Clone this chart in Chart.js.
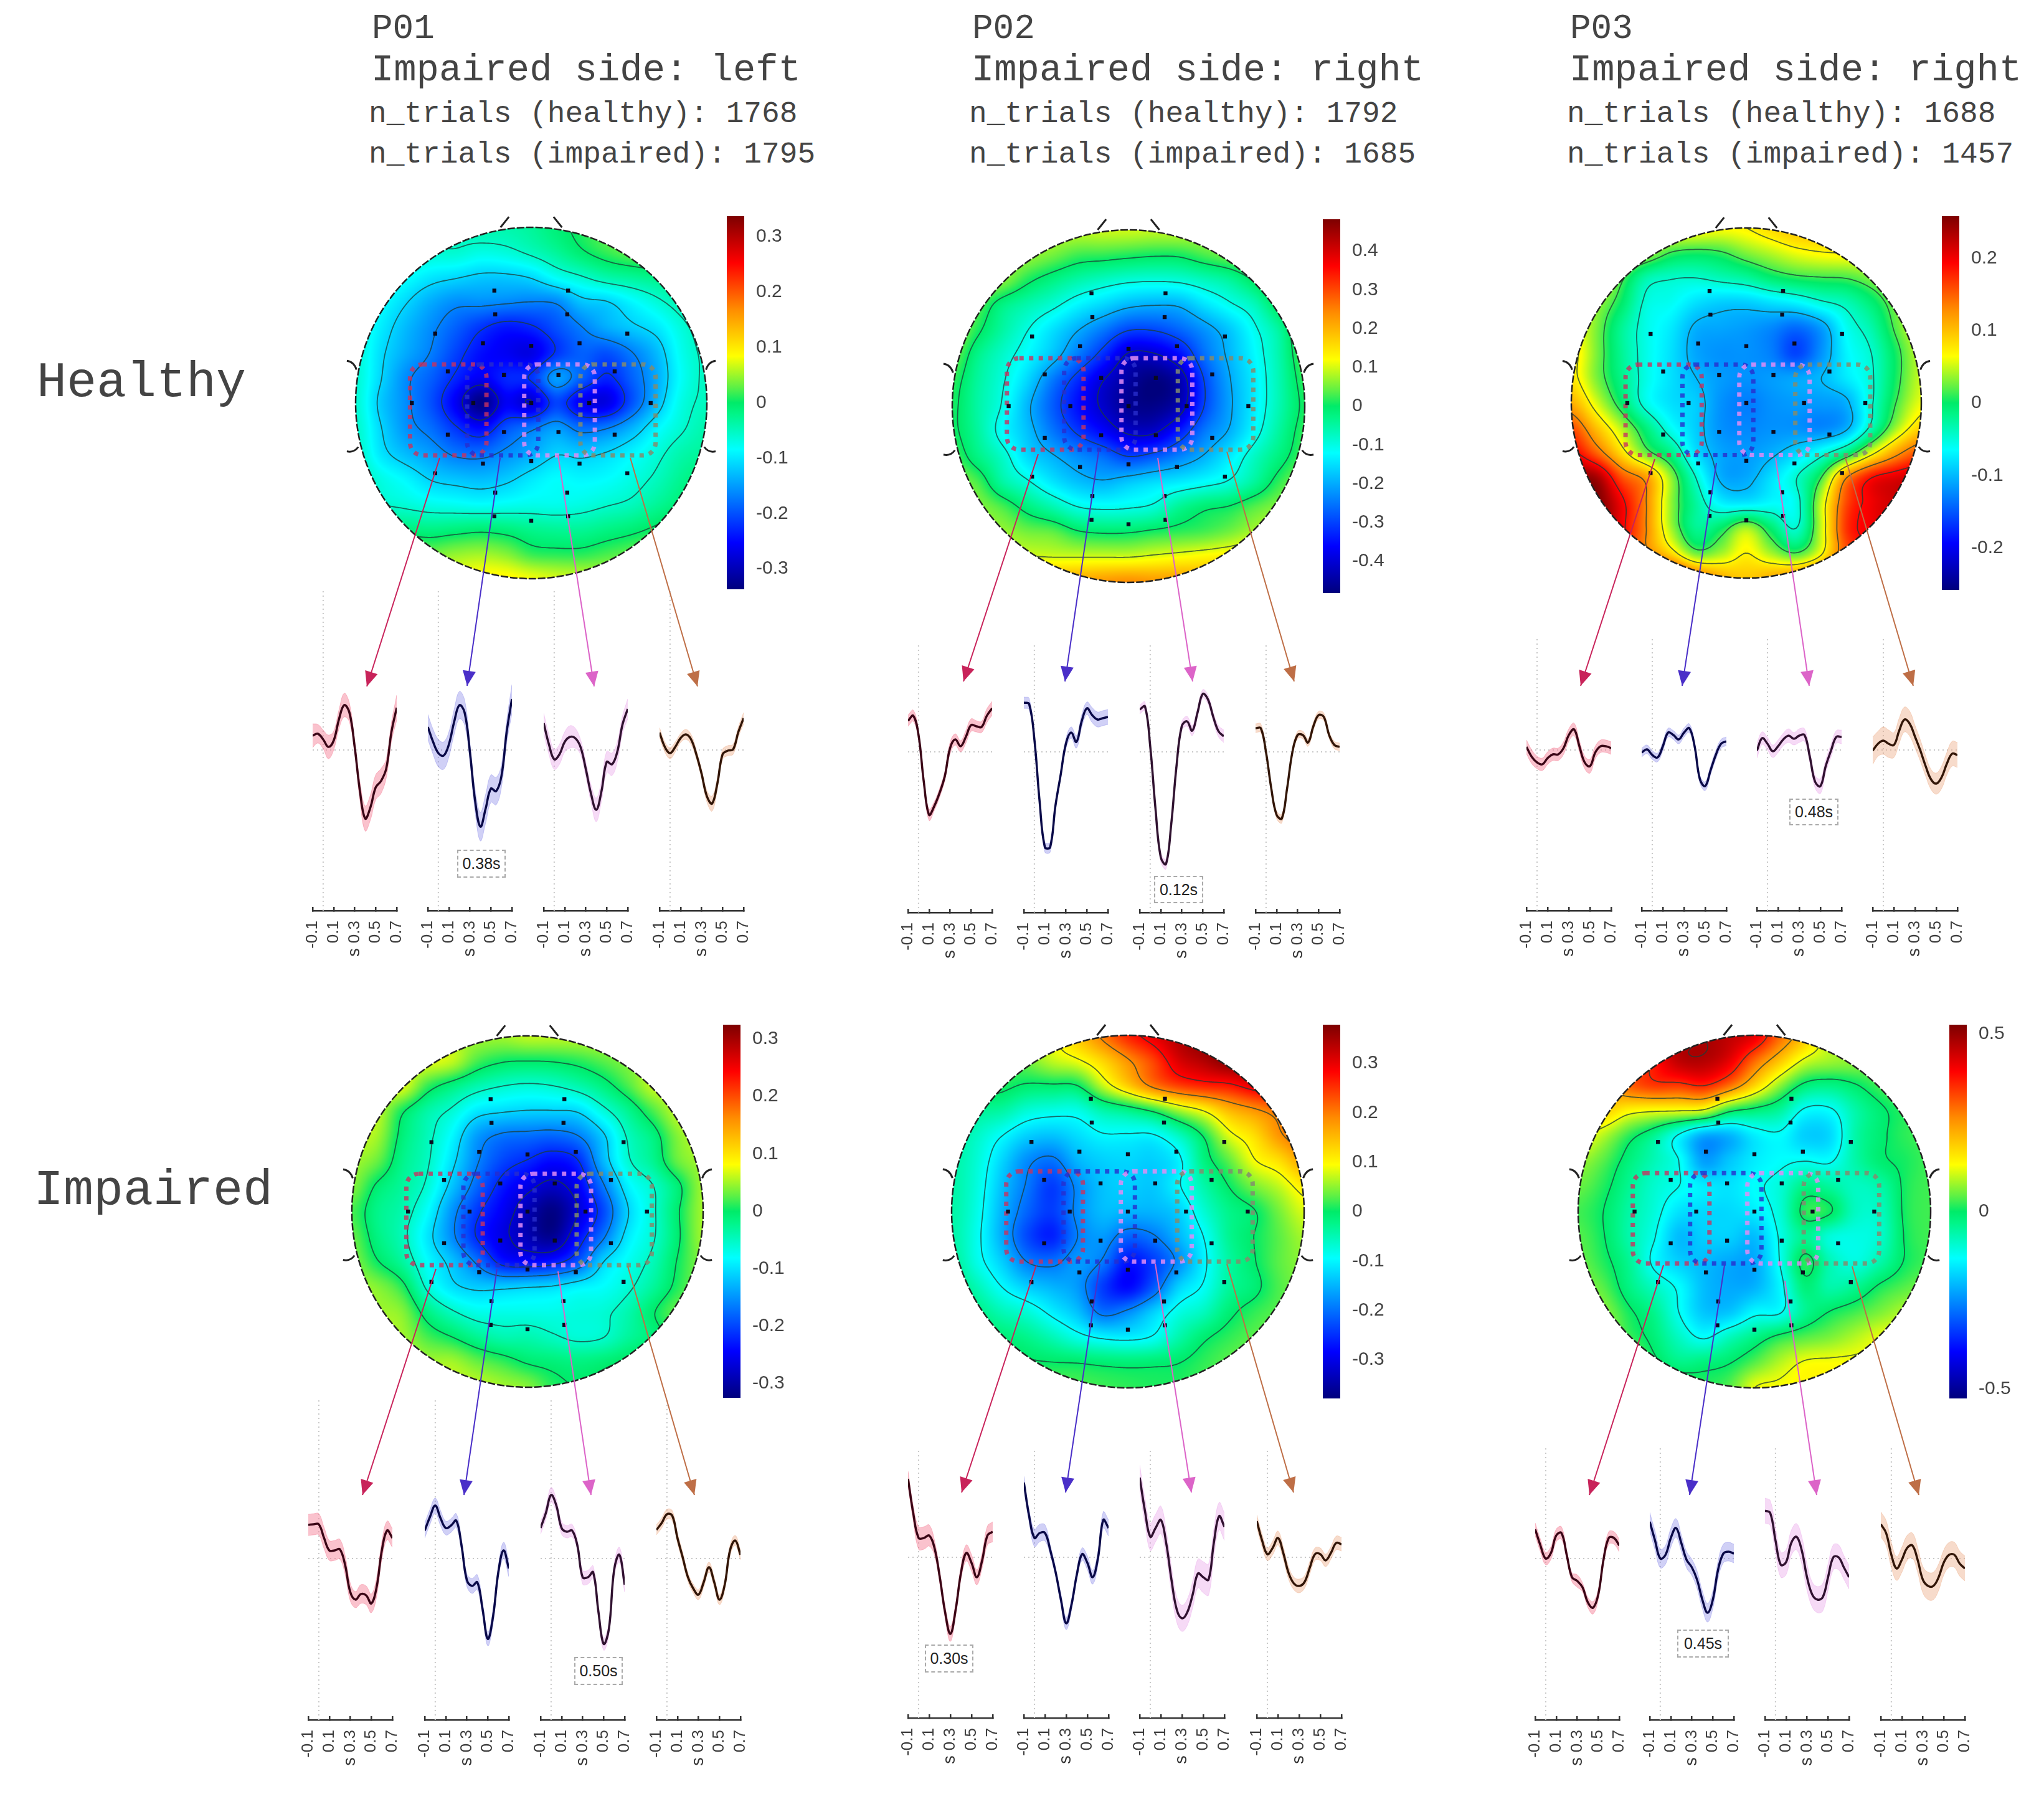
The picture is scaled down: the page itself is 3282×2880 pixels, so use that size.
<!DOCTYPE html>
<html>
<head>
<meta charset="utf-8">
<title>ERP topographies P01-P03</title>
<style>
  html, body { margin: 0; background: #fff; }
  #page { position: relative; width: 3282px; height: 2880px; overflow: hidden; background: #fff; }
  canvas { position: absolute; }
  .label { position: absolute; white-space: pre; font-family: "Liberation Mono", monospace; color: #444; line-height: 1; transform: translateY(-50%); }
  .peak { position: absolute; box-sizing: border-box; border: 2px dashed #aaa; font: 25px "Liberation Sans", Arial, sans-serif; color: #222;
          display: flex; align-items: center; justify-content: center; background: #fff; }
</style>
<script src="https://cdn.jsdelivr.net/npm/chart.js@4"></script>
</head>
<body>
<div id="page"></div>
<script>
// Text
const patients = ['P01', 'P02', 'P03']
const impairedSides = ['left', 'right', 'right']
const trialsHealthy = [1768, 1792, 1688]
const trialsImpaired = [1795, 1685, 1457]
const rowNames = ['Healthy', 'Impaired']
const peakLabels = ['0.38s', '0.12s', '0.48s', '0.50s', '0.30s', '0.45s']

// Colorbars
const cbarLimits = [0.337, 0.482, 0.258, 0.325, 0.378, 0.526]
const cbarTicks = [
  [0.3, 0.2, 0.1, 0, -0.1, -0.2, -0.3],
  [0.4, 0.3, 0.2, 0.1, 0, -0.1, -0.2, -0.3, -0.4],
  [0.2, 0.1, 0, -0.1, -0.2],
  [0.3, 0.2, 0.1, 0, -0.1, -0.2, -0.3],
  [0.3, 0.2, 0.1, 0, -0.1, -0.2, -0.3],
  [0.5, 0, -0.5],
]

// Topography cells, hundredths of the colorbar unit, 15 x 15 over the head, top row first
const mapHealthyP01 = [
  [-5,-5,-5,-5,-5,-4,-4,-3,-1,1,3,4,5,5,5],
  [-5,-5,-5,-6,-6,-7,-6.5,-5,-3,-.5,1.5,3,4,4,4],
  [-5,-6,-8,-10,-11,-12,-12,-11,-8,-6,-4,-3,-2,-1,0],
  [-5,-8,-11,-14,-16,-16,-16.5,-17,-16.5,-12.5,-11.5,-9,-6.5,-4,-2],
  [-6,-9.5,-13,-16,-19,-22,-24,-23,-20,-17,-14,-12,-10,-6.5,-4],
  [-6,-10.5,-14,-17,-21,-24.5,-26,-27,-22,-19,-20,-17,-13,-7.5,-5],
  [-6,-11,-16,-19,-23,-26,-23,-22,-15,-19,-23,-19,-14,-8,-5],
  [-6,-12,-16,-20,-26,-33,-26,-28,-21,-26,-27,-20,-13,-7,-5],
  [-5.5,-11,-15.5,-18,-22,-25,-20,-17.5,-15,-18,-17,-13.5,-9,-6,-4],
  [-5,-10,-13,-15,-17.5,-18,-16,-14,-11.5,-12,-11,-9,-6.5,-4,-3],
  [-4,-7,-9,-11.5,-12.5,-13,-12,-10,-8.5,-9,-8.5,-7,-5,-2.5,-1],
  [-3,-5.5,-6.5,-7.5,-8,-8.5,-8,-7.5,-7.5,-7,-6,-5,-3,-1,0],
  [-1,-1,-1.5,-2,-1.5,-1,-1.5,-2.5,-3,-3,-2,-1,.5,2,2],
  [4,4,4,3.5,4.5,5,4,1.5,1,1,2,3,4,4,4],
  [8,8,8,8,8,9,9,8,7,6.5,6,6,6,6,6],
]
const mapHealthyP02 = [
  [9,9,9,9,9,9,9.5,9.5,9,9,8,8,8,8,8],
  [9,9,8,7,5,2.5,2,1.2,.5,.7,3,5,7,8,8],
  [9,8,6,1,-2.5,-5.5,-7.5,-9,-9.5,-9,-7,-4.5,.5,6,8],
  [9,4,-2.5,-6,-9,-13,-16,-19,-20,-19.5,-15,-11,-7,1,6],
  [8,1,-5,-10,-15,-20,-25,-30,-30,-27,-22.5,-17.5,-11,-4.5,6],
  [5,-3,-8,-12.5,-18,-25,-32.5,-41,-41,-36,-26,-19,-12.5,-5.5,4],
  [2,-4.5,-9.5,-16,-25,-32.5,-40,-45,-48,-44,-30,-20.5,-13.5,-6,2],
  [1,-5,-10.5,-19,-27.5,-35,-41,-46,-47,-43,-30,-21,-13.5,-6,1],
  [1,-4.5,-12,-18,-25,-31,-36,-41,-41,-34,-25,-19.5,-12,-4.5,2],
  [3,-2.5,-8,-15.5,-19.5,-23,-26,-30,-28,-24,-19.5,-14,-7.5,-2,3],
  [6,3,-5,-9.5,-14.5,-18,-19.5,-17.5,-15.5,-14,-12,-9.5,-4.5,2,6],
  [7,6,3,-2,-6,-10,-11,-10.5,-9,-4,-1,.3,3.5,6,7],
  [9,8,7,5,4,.5,-.5,-.3,1,2,3,5,8,10,10],
  [11,11,11,10.5,10,10,10,10,11,12,13,14,15,15,15],
  [22,22,22,22,22,22,23,24,23,23,22,22,22,22,22],
]
const mapHealthyP03 = [
  [7,7,7,7,7,7,6.5,7,8.5,10,10,9,8,8,8],
  [7,7,6,4,1.2,.5,1.1,3,4.5,6,6.8,7,7,7,7],
  [7,7,2,-3,-4.2,-4.4,-3.5,-2.5,-.5,.7,1.2,1.5,3,5,6],
  [7,4,0,-5,-6,-8,-9,-9,-8,-7,-5,-3.5,-.7,3,6],
  [7,3,-2,-5.5,-7.5,-10.5,-11,-11.5,-12.5,-14,-11.5,-6,-3,2,6],
  [8,3,-2,-5.5,-8,-11,-12,-12,-13,-16,-12,-7,-4.4,.5,5],
  [8,3,-1.5,-5.5,-8,-10,-11.5,-12,-11.5,-11,-10,-7.5,-4.8,.5,5],
  [11,5.5,0,-5.5,-8,-9,-12,-13,-12,-11.5,-11.5,-10.5,-4.8,1.5,6],
  [16,10,4.5,-1,-6,-9,-12,-12.5,-12,-12,-12.5,-10.5,-3.5,4,9],
  [20,15,8.5,2.5,-1.5,-8,-11,-11.5,-10.5,-8.5,-5.5,-1,6,12,16],
  [25,24,16,12,3.5,-4.5,-10.5,-10.8,-8,-4.5,1.5,13,19,21,22],
  [26,26,20,13,3.5,-2.5,-7,-7.5,-6.5,-5.5,5,16,20,22,23],
  [26,26,20,13,4,-2,0,4,-.5,-4.4,5,17,20,22,23],
  [26,26,20,14,8.5,2.5,4,7,4,1.5,6.5,16,20,22,23],
  [26,26,26,25,21,15,11,9.5,11,13,16,21,23,23,23],
]
const mapImpairedP01 = [
  [5,5,5,5,5,5,5,6,6,6,6,5,5,5,5],
  [6,6,6,7,6,2,.3,0,.2,1,2.5,4,5,5,5],
  [6,6,7,1.5,-1.5,-4,-5.4,-6,-5.5,-4,-1.5,2,6,6,6],
  [6,6,.5,-3.5,-6,-9.5,-10.5,-11,-11,-10.5,-6.5,-2.5,2,6,6],
  [6,5,-1,-4.5,-8.5,-14.5,-17,-17.5,-18,-16.5,-11.5,-5,-1.5,4,6],
  [5,3,-2,-5,-10,-16,-20,-22,-24,-22,-13,-6,-2.5,3,5],
  [4,-.5,-3,-6,-12,-18,-23,-26,-28,-25,-17,-9,-5.5,-.8,5],
  [2,-2,-4,-8,-15,-21,-25,-29,-32,-27,-20,-11,-6,-.3,5],
  [3,-1.5,-4.5,-9.5,-15.5,-22,-26,-29,-31,-24,-17,-9.5,-5.8,-.5,5],
  [4,.3,-3,-8,-12,-17,-23,-24,-23,-19,-11,-7.5,-4.5,.3,4],
  [5,4,1,-6,-10,-11.5,-11.5,-11,-10.5,-9,-8,-6,-3,1,4],
  [6,5,4,-1.5,-5,-7,-7,-7,-7,-6.5,-6,-4,-.3,3,4],
  [6,6,5,2,0,-2.5,-4,-4,-5,-6,-5.5,-3,-1,1.5,3],
  [6,6,6,5,5,3,1.5,-.3,-1,-1.5,-.8,.5,2,3,4],
  [6,6,6,6,6,6,5,4,1,0,1,3,4,5,5],
]
const mapImpairedP02 = [
  [3,3,5,7,9,14,20,26,30,34,37,37,37,37,37],
  [1,1,2,4,7,9,13,18.5,24,31,34,37,37,37,37],
  [2,2,1,-.5,-.5,0,7,13.5,20,24,26,27,30,32,32],
  [-1,-3,-4,-7,-8,-8,-4.5,-2.5,.5,5.5,9.5,15,18,21,24],
  [-3,-6,-9.5,-13,-14,-12,-10,-10,-10,-6,.2,8,12,18,22],
  [-4,-7,-12.5,-18,-20,-15,-13,-12.5,-13,-10.5,-2,3,9,12,17],
  [-4,-7.5,-14,-19.5,-24,-18,-14,-13,-13.5,-10,-4.5,0,4,7,11],
  [-4,-8,-15,-21,-24,-18,-14.5,-15,-15,-13,-7,-2.5,-.3,4,8],
  [-4,-8.5,-15.5,-23,-26,-19,-17,-21,-19.5,-15,-9.5,-3,0,3,6],
  [-3,-8,-13,-19,-20,-17,-19.5,-27,-24,-18,-10.5,-4,-.3,3,5],
  [-1,-5,-9.5,-13,-15,-17,-24,-28,-22,-13,-9,-3.5,-1,2.5,4.5],
  [0,-2,-5,-7,-10.5,-14,-20,-18,-13,-8,-5.5,-1,1.5,3,4],
  [1,0,-1,-2.5,-5,-8,-10,-10.5,-9,-4.5,-.7,1.5,3,4,5],
  [2,2,1.5,.5,.1,-.1,-.7,-1,-.7,-.1,1.5,3,4,5,5],
  [3,3,3,3,3,2.5,2,1.5,1,1,2,3,4,5,5],
]
const mapImpairedP03 = [
  [30,35,40,44,46,48,46,42,30,20,9,6,5,5,5],
  [15,20,30,38,46,47,42,30,20,11,8,7,6,6,6],
  [15,22,30,34,34,36,29,18,7,-1.5,-3,-.5,3,5,5],
  [14,18,14,12.5,12,10.5,1,-2,-5,-13,-13,-6,-1,2,3],
  [14,9,2,-4,-13,-22,-21,-15,-13,-18,-17,-6,-1,2,3],
  [8,4,-2,-7,-12,-23,-19,-15,-13,-12,-12.5,-6,-1,1,3],
  [5,1.5,-4,-9,-12,-15,-16,-13,-10,-3,-5,-8,-6,1,3],
  [3,0,-5.5,-10,-16,-17,-17,-15,-10,1.5,.5,-8,-8,1,3],
  [4,.3,-6,-11.5,-20,-18,-18,-20,-11.5,-4,-10,-11,-9,.5,3],
  [5,1.5,-4,-13,-18,-20,-22,-22,-12,1.5,-7,-10.5,-6,.5,3],
  [7,4,-2.5,-8,-13,-20,-22,-21,-14,-2,-6,-4,1,4,6],
  [9,7,1,-3.5,-12,-19,-19,-13.5,-12.5,-4,.3,3,6,9,10],
  [10,9,3,-1.5,-8,-12.5,-7.5,-3,1.5,4,6,9,12,13,13],
  [12,11,8,1.5,-3,-2,-.3,4,9,12.5,13,13,13,13,13],
  [14,14,12,8,5,2,4,12,13,14,14,14,14,14,14],
]
const contourLevels = [
  [-28, -22.4, -16.8, -11.2, -5.6, 0],
  [-40, -30, -20, -10, 0, 10],
  [-10, -4.4, 1.4, 7, 13, 19],
  [-27, -21.7, -16.3, -10.8, -5.4, 0],
  [-19, -9.5, 0, 9.5, 19, 28],
  [-12, 0, 12, 24, 36, 48],
]

// Electrodes, head coordinates
const electrodeU = [-.21,.21,-.205,.205,-.547,.547,-.275,.275,0,-.475,.475,-.155,.155,-.68,.68,-.33,.33,0,-.475,.475,-.155,.155,-.275,.275,0,-.547,.547,-.205,.205,-.21,.21,0]
const electrodeV = [.64,.64,.505,.505,.395,.395,.34,.34,.325,.18,.18,.16,.16,0,0,0,0,0,-.18,-.18,-.165,-.165,-.345,-.345,-.33,-.4,-.4,-.51,-.51,-.645,-.645,-.67]

// ERP traces: red, blue, pink, brown regions. Arbitrary units, one unit is 10 px on the page
const erpTimes = [-0.1,-0.05,0,0.05,0.1,0.15,0.2,0.25,0.3,0.35,0.4,0.45,0.5,0.55,0.6,0.65,0.7]
const erpTicks = [-0.1, 0.1, 0.3, 0.5, 0.7]
const erpHealthyP01 = [
  [2.3,2.6,1.7,.5,1.5,4.9,7.2,6,.5,-6.6,-11,-9.2,-6,-5,-3,2.9,6.8],
  [3.7,1.3,-.5,-.9,.9,4.5,7.2,6,-.3,-8.2,-12.3,-9.4,-6.2,-6.6,-4.2,2.9,8.2],
  [4.3,.9,-1.5,-.7,1.3,2.1,1.9,.5,-3,-7,-9.6,-6.6,-1.9,-2.3,-.3,4.1,6.6],
  [2.8,.5,-.5,.5,1.9,2.5,1.7,-.7,-3.8,-7.4,-8.6,-5.4,-.7,-.1,.1,2.9,5.1],
]
const semHealthyP01 = [
  [1.9,1.5,1.5,1.9,1.5,1.5,1.9,1.5,1,1.5,2,2,2,2,1.5,1.5,2],
  [2,2,2.2,2.2,2,2,2.2,2,1.5,1.8,2.3,2.3,2.2,2.2,1.8,1.8,2.3],
  [1.6,1.6,1.6,1.6,1.6,1.8,1.6,1.2,1.2,1.4,1.9,1.6,1.7,1.8,1.6,1.4,1.6],
  [.8,.8,.9,.8,.7,.8,.8,.7,.7,.9,1.2,.9,.8,.8,.8,.8,.9],
]
const erpHealthyP02 = [
  [5,5.8,2.7,-4.8,-10.1,-8.7,-6.6,-3.9,.6,2,.9,2.4,4.3,4.1,4,5.8,7],
  [7.9,7.7,2,-8,-15.3,-15.3,-8.7,-3.7,1.3,3.1,1.6,4.9,7,5.9,5.2,5.4,5.6],
  [6.8,7.3,.9,-9.1,-16.9,-18,-11.6,-2.3,4.1,4.9,3.4,6.3,9.3,8.4,5.6,3.3,2.5],
  [3.8,3.8,-.1,-5.9,-10.1,-10.7,-5.9,-.1,2.7,2.7,1.5,4.1,5.9,5.6,2.7,1.1,.8],
]
const semHealthyP02 = [
  [.9,.9,.7,.6,.9,.7,.7,.7,.9,.9,.9,1,1,.9,.9,1.1,1.1],
  [.9,.9,.5,.5,.8,.8,.5,.5,.8,.9,1,1,1,1.2,1.2,1.2,1.2],
  [.7,.7,.4,.4,.7,.8,.5,.5,.7,.8,.8,.7,.7,.7,.7,.9,1],
  [.7,.7,.4,.4,.6,.7,.4,.4,.6,.6,.6,.6,.6,.6,.5,.6,.6],
]
const erpHealthyP03 = [
  [.5,-1.1,-2,-2.3,-1.3,-.7,-.7,.3,2.4,3.3,.6,-2,-2.6,-.4,.6,.6,.3],
  [-.4,.1,-.8,-1.2,.6,2.8,2.4,1.7,2.8,3.5,.6,-4.7,-5.8,-3.3,-.8,1,1.4],
  [-.1,1.9,1,-.2,.6,1.7,2.3,1.8,2.3,2.4,-1.1,-5.1,-5.8,-2.6,-.1,2.1,2.1],
  [-.1,1,1.5,1,.8,3.1,4.9,4.2,2.1,-.1,-2.6,-4.7,-5.4,-4.4,-2.2,-.6,-.8],
]
const semHealthyP03 = [
  [1.1,1.1,1,1,1,1,1,1,1,1,.9,1,1.1,1,1,1,1],
  [.7,.7,.7,.7,.7,.7,.7,.7,.7,.7,.6,.6,.7,.7,.7,.7,.7],
  [1.2,1,1,1,1,1,1.1,1,1.1,1,.9,1,1.2,1,1,1,1.1],
  [2.2,2,2.2,2.2,2,2,2,2,1.8,1.7,1.6,1.6,1.7,1.8,1.8,2,2],
]
const erpImpairedP01 = [
  [5.4,5.5,5.5,3.3,1.3,1.3,1.5,-1,-5.4,-6.6,-5.7,-5.9,-7.2,-4.6,1.3,4.5,3.3],
  [4.5,6.7,8.5,6.5,4.9,5.3,6.1,2.1,-3.4,-4.4,-3.8,-8.1,-12.9,-9.3,-2.2,1.3,-1.6],
  [4.9,7.3,10.2,8.5,4.9,4.3,4.5,2.1,-3,-3,-2.2,-8.5,-13.7,-11.3,-1.8,.6,-4.2],
  [4.6,5.7,7.1,6.9,3.3,.2,-3,-4.8,-5.8,-3.8,-1.4,-3.8,-6.6,-4.2,1.3,2.9,.6],
]
const semImpairedP01 = [
  [1.7,1.7,1.7,1.7,1.6,1.6,1.6,1.5,1.4,1.3,1.5,1.5,1.5,1.5,1.4,1.5,1.5],
  [1.2,1.2,1.2,1.2,1.1,1.1,1.1,1,1,1.2,1.2,1,1.1,1.2,1,1.3,1.3],
  [1,1,1.2,1,1,1,1,.8,1.1,1.1,1,.9,1,1,1,1.2,1.2],
  [.8,.8,.8,.8,.8,.8,.7,.7,.8,.8,.8,.8,.8,.8,.8,.8,.8],
]
const erpImpairedP02 = [
  [12.6,7,3.1,3.1,3.5,1.5,-3.2,-8.8,-12.3,-8.4,-2.5,.7,-.9,-3.2,-.5,3.5,4.1],
  [12,6.6,3.1,3.9,3.9,1.1,-2.4,-6.8,-10.6,-7.6,-2.8,.5,-.9,-3.2,-.1,6,4.7],
  [12.8,7.4,3.3,4.7,6,2.3,-3.6,-8.4,-9.8,-8.8,-6,-2.6,-3.2,-3.6,2.3,6.6,4.9],
  [5.8,2.7,.5,1.5,3.1,.7,-2.5,-4.2,-4.6,-4,-1.7,.5,.5,-.5,.7,2.3,2.1],
]
const semImpairedP02 = [
  [1.2,1.2,1.8,1.8,1.7,1.2,1,1,1.2,1,1,1.3,1.3,1.2,1.2,1.5,1.6],
  [1,1,1.4,1.4,1.3,.8,.7,.9,1,.9,.8,1,1.1,1.1,1.1,1.3,1.3],
  [2,2,2.2,2.2,2.2,2,2,2,2.1,2.1,2.1,2.3,2.5,2.5,2.2,2.2,2.2],
  [1,1,1,1.1,1.1,1,1,1,1.1,1,1,1,1,1,1,1.1,1.1],
]
const erpImpairedP03 = [
  [4.7,2.1,0,.9,3.7,4.1,.6,-3,-3.6,-4.6,-7,-7.9,-5.8,-.2,3.3,3.3,2.1],
  [5.9,2.9,0,.6,3.3,4.9,2.5,-.2,-1.4,-3.4,-6.6,-8.7,-6.6,-1.8,.8,1.1,.8],
  [7.7,7.3,2.9,-1,-.6,2.5,3.5,1.3,-3,-5.8,-6.6,-6.2,-3,.2,.2,-1.4,-3],
  [5.5,4.1,.6,-1.6,-.2,1.7,2.1,-.2,-3.4,-4.4,-4.4,-3,-.6,.6,.6,-.8,-1.6],
]
const semImpairedP03 = [
  [1,1,1,1,1,1,.7,.7,1,.7,.8,1,.8,.8,1,1,1],
  [1.5,1.5,1.5,1.5,1.5,1.5,1.3,1.3,1.3,1.4,1.4,1.5,1.4,1.4,1.5,1.5,1.5],
  [2,2,2,2,2,2,2.1,2.2,2.1,2,2.1,2.2,2.1,2,2,1.9,1.9],
  [2,2,2,1.9,2,2,2,2,2.1,2.2,2.2,2.1,2,2,2,2,2],
]

// -------------------------
// Page layout and styles

const regionColors = ['#c8235a', '#4a2fc8', '#dc64c8', '#be6e46']
const rectColors = ['rgba(200,50,95,.8)', 'rgba(40,45,205,.8)', 'rgba(225,140,245,.85)', 'rgba(130,140,110,.85)']
const bandColors = ['rgba(245,120,145,.45)', 'rgba(120,120,230,.35)', 'rgba(230,150,230,.35)', 'rgba(235,165,125,.4)']
const lineColors = ['#3a0616', '#0a0a48', '#301230', '#321608']
const regionU = [[-.69, -.255], [-.365, .04], [-.04, .362], [.28, .708]]

const panels = [
  { grid: mapHealthyP01, cx: 853, cy: 647, r: 282, bar: [1167, 347, 28, 599], rectV: [.22, -.298],
    erp: erpHealthyP01, sem: semHealthyP01, axes: [501.5, 687, 873, 1059], axisW: 135, axisY: 1462, zeroY: 1204, topY: 944,
    arrows: [[706,735,589,1102],[803,735,750,1101],[896,731,954,1102],[1012,735,1120,1102]], peak: [734,1364,78,45] },
  { grid: mapHealthyP02, cx: 1812, cy: 652, r: 283, bar: [2124, 352, 28, 600], rectV: [.272, -.247],
    erp: erpHealthyP02, sem: semHealthyP02, axes: [1458.3, 1644.4, 1830.4, 2016], axisW: 135.3, axisY: 1465, zeroY: 1207, topY: 1034,
    arrows: [[1667,729,1547,1094],[1764,725,1710,1094],[1859,735,1915,1094],[1970,725,2078,1094]], peak: [1853,1406,79,44] },
  { grid: mapHealthyP03, cx: 2804, cy: 647, r: 281, bar: [3118, 347, 28, 600], rectV: [.22, -.297],
    erp: erpHealthyP03, sem: semHealthyP03, axes: [2451.3, 2636, 2821, 3007], axisW: 135.5, axisY: 1462, zeroY: 1204, topY: 1023,
    arrows: [[2657,737,2538,1101],[2756,743,2701,1101],[2851,735,2905,1101],[2963,735,3072,1101]], peak: [2873,1282,79,43] },
  { grid: mapImpairedP01, cx: 847, cy: 1944.5, r: 282, bar: [1161, 1645, 28, 599], rectV: [.215, -.305],
    erp: erpImpairedP01, sem: semImpairedP01, axes: [495.4, 682, 868, 1053.6], axisW: 135, axisY: 2761, zeroY: 2502, topY: 2246,
    arrows: [[700,2037,582,2400],[798,2037,745,2400],[896,2041,949,2400],[1008,2033,1115,2400]], peak: [922,2660,78,45] },
  { grid: mapImpairedP02, cx: 1811, cy: 1945, r: 283, bar: [2124, 1645, 28, 600], rectV: [.228, -.284],
    erp: erpImpairedP02, sem: semImpairedP02, axes: [1458.3, 1644.4, 1830.4, 2018], axisW: 135.5, axisY: 2758, zeroY: 2500, topY: 2325,
    arrows: [[1664,2031,1544,2396],[1766,2029,1711,2396],[1855,2029,1913,2396],[1970,2029,2077,2396]], peak: [1485,2640,78,45] },
  { grid: mapImpairedP03, cx: 2817, cy: 1945, r: 283, bar: [3130, 1645, 28, 600], rectV: [.218, -.294],
    erp: erpImpairedP03, sem: semImpairedP03, axes: [2464.8, 2648.9, 2834.4, 3020], axisW: 135, axisY: 2761, zeroY: 2502, topY: 2325,
    arrows: [[2671,2031,2552,2400],[2769,2031,2713,2400],[2866,2056,2917,2400],[2974,2033,3081,2400]], peak: [2693,2616,83,45] },
]

// -------------------------

const page = document.getElementById('page')
const TICK_FONT = '"Liberation Sans", Arial, sans-serif'

Chart.defaults.animation = false
Chart.defaults.responsive = false
Chart.defaults.devicePixelRatio = 1
Chart.defaults.layout.autoPadding = false
Chart.defaults.plugins.legend.display = false
Chart.defaults.plugins.tooltip.enabled = false

const addCanvas = (left, top, width, height) => {
  const canvas = document.createElement('canvas')
  canvas.width = Math.round(width)
  canvas.height = Math.round(height)
  canvas.style.left = left + 'px'
  canvas.style.top = top + 'px'
  page.appendChild(canvas)
  return canvas
}

const addLabel = (text, left, centerY, size) => {
  const el = document.createElement('div')
  el.className = 'label'
  el.textContent = text
  el.style.left = left + 'px'
  el.style.top = centerY + 'px'
  el.style.fontSize = size + 'px'
  page.appendChild(el)
}

// Colormap, jet with the greener middle the colorbars show
const jetStops = [
  [0, 0, 0, 125], [.125, 0, 0, 255], [.25, 0, 128, 255], [.375, 0, 255, 255], [.47, 0, 245, 135],
  [.5, 0, 235, 105], [.54, 90, 240, 70], [.625, 255, 255, 0], [.75, 255, 140, 0], [.875, 255, 0, 0], [1, 125, 0, 0],
]

const jetColor = (t) => {
  const c = Math.max(0, Math.min(1, t))
  for (let i = 1; i < jetStops.length; i++) {
    if (c <= jetStops[i][0]) {
      const a = jetStops[i - 1]
      const b = jetStops[i]
      const f = (c - a[0]) / (b[0] - a[0])
      return [a[1] + (b[1] - a[1]) * f, a[2] + (b[2] - a[2]) * f, a[3] + (b[3] - a[3]) * f]
    }
  }
  return jetStops[jetStops.length - 1].slice(1)
}

const catmull = (a, b, c, d, f) => b + 0.5 * f * (c - a + f * (2 * a - 5 * b + 4 * c - d + f * (3 * (b - c) + d - a)))

// Smooth shading between the cells, like shading interp
const sampleGrid = (grid, u, v) => {
  const n = grid.length - 1
  const gx = Math.max(0, Math.min(n, (u + 1) * n / 2))
  const gy = Math.max(0, Math.min(n, (1 - v) * n / 2))
  const ix = Math.min(n - 1, Math.floor(gx))
  const iy = Math.min(n - 1, Math.floor(gy))
  const row = (j) => {
    const r = grid[Math.max(0, Math.min(n, j))]
    const at = (i) => r[Math.max(0, Math.min(n, i))]
    return catmull(at(ix - 1), at(ix), at(ix + 1), at(ix + 2), gx - ix)
  }
  return catmull(row(iy - 1), row(iy), row(iy + 1), row(iy + 2), gy - iy)
}

const drawHeat = (chart, panel, limit) => {
  const { ctx, width, height, scales: { x, y } } = chart
  const off = document.createElement('canvas')
  off.width = width
  off.height = height
  const offCtx = off.getContext('2d')
  const img = offCtx.createImageData(width, height)
  const us = []
  const vs = []
  for (let px = 0; px < width; px++) us.push(x.getValueForPixel(px + 0.5))
  for (let py = 0; py < height; py++) vs.push(y.getValueForPixel(py + 0.5))
  for (let py = 0; py < height; py++) {
    for (let px = 0; px < width; px++) {
      if (us[px] * us[px] + vs[py] * vs[py] > 1.03) continue
      const rgb = jetColor(0.5 + sampleGrid(panel.grid, us[px], vs[py]) / 100 / limit / 2)
      const k = (py * width + px) * 4
      img.data[k] = rgb[0]
      img.data[k + 1] = rgb[1]
      img.data[k + 2] = rgb[2]
      img.data[k + 3] = 255
    }
  }
  offCtx.putImageData(img, 0, 0)
  ctx.drawImage(off, 0, 0)
}

const drawContours = (chart, panel, levels) => {
  const { ctx, scales: { x, y } } = chart
  const step = 0.012
  const n = Math.round(2 / step)
  const field = []
  for (let j = 0; j <= n; j++) {
    const row = []
    for (let i = 0; i <= n; i++) row.push(sampleGrid(panel.grid, -1 + i * step, 1 - j * step))
    field.push(row)
  }
  ctx.beginPath()
  levels.forEach((lev) => {
    for (let j = 0; j < n; j++) {
      for (let i = 0; i < n; i++) {
        const a = field[j][i], b = field[j][i + 1], c = field[j + 1][i + 1], d = field[j + 1][i]
        const u = -1 + i * step
        const v = 1 - j * step
        const pts = []
        if ((a < lev) !== (b < lev)) pts.push([u + step * (lev - a) / (b - a), v])
        if ((b < lev) !== (c < lev)) pts.push([u + step, v - step * (lev - b) / (c - b)])
        if ((d < lev) !== (c < lev)) pts.push([u + step * (lev - d) / (c - d), v - step])
        if ((a < lev) !== (d < lev)) pts.push([u, v - step * (lev - a) / (d - a)])
        for (let k = 0; k + 1 < pts.length; k += 2) {
          ctx.moveTo(x.getPixelForValue(pts[k][0]), y.getPixelForValue(pts[k][1]))
          ctx.lineTo(x.getPixelForValue(pts[k + 1][0]), y.getPixelForValue(pts[k + 1][1]))
        }
      }
    }
  })
  ctx.strokeStyle = 'rgba(30,60,55,.75)'
  ctx.lineWidth = 1.8
  ctx.lineCap = 'round'
  ctx.stroke()
}

const headPlugin = (panel, index) => ({
  id: 'head',
  beforeDatasetsDraw(chart) {
    const { ctx, scales: { x, y } } = chart
    const cx = x.getPixelForValue(0)
    const cy = y.getPixelForValue(0)
    const r = x.getPixelForValue(1) - cx

    ctx.save()
    ctx.beginPath()
    ctx.arc(cx, cy, r, 0, Math.PI * 2)
    ctx.clip()
    drawHeat(chart, panel, cbarLimits[index])
    drawContours(chart, panel, contourLevels[index])
    ctx.restore()

    // regions of interest, dotted
    ctx.save()
    ctx.lineWidth = 7
    ctx.setLineDash([7, 8.5])
    regionU.forEach((ru, i) => {
      const x0 = x.getPixelForValue(ru[0])
      const x1 = x.getPixelForValue(ru[1])
      const y0 = y.getPixelForValue(panel.rectV[0])
      const y1 = y.getPixelForValue(panel.rectV[1])
      ctx.strokeStyle = rectColors[i]
      ctx.beginPath()
      ctx.roundRect(x0, y0, x1 - x0, y1 - y0, 20)
      ctx.stroke()
    })
    ctx.restore()

    // head, nose and ears
    ctx.save()
    ctx.strokeStyle = '#222'
    ctx.lineWidth = 2.5
    ctx.setLineDash([12, 3])
    ctx.beginPath()
    ctx.arc(cx, cy, r, 0, Math.PI * 2)
    ctx.stroke()
    ctx.setLineDash([])
    ctx.lineWidth = 3
    ctx.beginPath()
    ;[-1, 1].forEach((side) => {
      ctx.moveTo(x.getPixelForValue(side * .175), y.getPixelForValue(1))
      ctx.lineTo(x.getPixelForValue(side * .127), y.getPixelForValue(1.06))
      ctx.moveTo(x.getPixelForValue(side * .995), y.getPixelForValue(.19))
      ctx.quadraticCurveTo(x.getPixelForValue(side * 1.01), y.getPixelForValue(.235), x.getPixelForValue(side * 1.05), y.getPixelForValue(.24))
      ctx.moveTo(x.getPixelForValue(side * .985), y.getPixelForValue(-.25))
      ctx.quadraticCurveTo(x.getPixelForValue(side * 1.01), y.getPixelForValue(-.285), x.getPixelForValue(side * 1.05), y.getPixelForValue(-.275))
    })
    ctx.stroke()
    ctx.restore()
  },
})

const drawTopography = (panel, index) => {
  const margin = 46
  const side = 2 * (panel.r + margin)
  const extent = (panel.r + margin) / panel.r
  const canvas = addCanvas(panel.cx - side / 2, panel.cy - side / 2, side, side)
  new Chart(canvas, {
    type: 'scatter',
    data: {
      datasets: [{
        data: electrodeU.map((u, i) => ({ x: u, y: electrodeV[i] })),
        pointStyle: 'rect',
        pointRadius: 4.5,
        backgroundColor: '#0a0a1e',
        borderWidth: 0,
      }],
    },
    options: {
      layout: { padding: 0 },
      scales: {
        x: { type: 'linear', display: false, min: -extent, max: extent },
        y: { type: 'linear', display: false, min: -extent, max: extent },
      },
    },
    plugins: [headPlugin(panel, index)],
  })
}

const drawColorbar = (panel, index) => {
  const [left, top, barW, barH] = panel.bar
  const limit = cbarLimits[index]
  const labelW = 110
  const pad = 20
  const canvas = addCanvas(left, top - pad, barW + labelW, barH + 2 * pad)
  new Chart(canvas, {
    type: 'bar',
    data: {
      labels: [''],
      datasets: [{
        data: [[-limit, limit]],
        barPercentage: 1,
        categoryPercentage: 1,
        borderSkipped: false,
        backgroundColor(context) {
          const { ctx, chartArea } = context.chart
          if (!chartArea) return '#000'
          const g = ctx.createLinearGradient(0, chartArea.bottom, 0, chartArea.top)
          jetStops.forEach((s) => g.addColorStop(s[0], `rgb(${s[1]},${s[2]},${s[3]})`))
          return g
        },
      }],
    },
    options: {
      layout: { padding: { top: pad, bottom: pad } },
      scales: {
        x: { display: false },
        y: {
          position: 'right',
          min: -limit,
          max: limit,
          grid: { display: false },
          border: { display: false },
          afterBuildTicks(scale) {
            scale.ticks = cbarTicks[index].map((value) => ({ value }))
          },
          afterFit(scale) {
            scale.width = labelW
            scale.paddingTop = 0
            scale.paddingBottom = 0
          },
          ticks: {
            autoSkip: false,
            padding: 11,
            color: '#444',
            font: { family: TICK_FONT, size: 30 },
            callback: (v) => String(v),
          },
        },
      },
    },
  })
}

const axisTitlePlugin = {
  id: 'axisTitle',
  afterDraw(chart) {
    const { ctx, scales: { x } } = chart
    ctx.save()
    ctx.translate(x.getPixelForValue(0.3), x.top + 67)
    ctx.rotate(-Math.PI / 2)
    ctx.font = `27px ${TICK_FONT}`
    ctx.fillStyle = '#333'
    ctx.textAlign = 'center'
    ctx.textBaseline = 'middle'
    ctx.fillText('s', 0, 0)
    ctx.restore()
  },
}

const drawTrace = (panel, traceIndex) => {
  const side = 30
  const axisH = 95
  const left = panel.axes[traceIndex]
  const plotH = panel.axisY - panel.topY
  const canvas = addCanvas(left - side, panel.topY, panel.axisW + 2 * side, plotH + axisH)
  const mean = panel.erp[traceIndex]
  const sem = panel.sem[traceIndex]
  const yMax = (panel.zeroY - panel.topY) / 10
  const yMin = (panel.zeroY - panel.axisY) / 10
  const dotted = { borderColor: '#c8c8c8', borderWidth: 2, borderDash: [2, 5], pointRadius: 0, fill: false }
  new Chart(canvas, {
    type: 'line',
    data: {
      // first dataset is drawn last, so the mean stays on top of its band
      datasets: [
        {
          data: erpTimes.map((t, i) => ({ x: t, y: mean[i] })),
          borderWidth: 3.5,
          borderColor: lineColors[traceIndex],
          pointRadius: 0,
          tension: 0.4,
          fill: false,
        },
        {
          data: erpTimes.map((t, i) => ({ x: t, y: mean[i] + sem[i] })),
          borderWidth: 1,
          borderColor: bandColors[traceIndex],
          backgroundColor: bandColors[traceIndex],
          pointRadius: 0,
          tension: 0.4,
          fill: '+1',
        },
        {
          data: erpTimes.map((t, i) => ({ x: t, y: mean[i] - sem[i] })),
          borderWidth: 1,
          borderColor: bandColors[traceIndex],
          pointRadius: 0,
          tension: 0.4,
          fill: false,
        },
        { ...dotted, data: [{ x: 0, y: yMin }, { x: 0, y: yMax }] },
        { ...dotted, data: [{ x: erpTimes[0], y: 0 }, { x: erpTimes[erpTimes.length - 1], y: 0 }] },
      ],
    },
    options: {
      layout: { padding: { left: side, right: side } },
      scales: {
        y: { display: false, min: yMin, max: yMax },
        x: {
          type: 'linear',
          min: -0.1,
          max: 0.7,
          offset: false,
          grid: { drawOnChartArea: false, tickLength: -6, color: '#333', lineWidth: 2.5 },
          border: { display: true, color: '#333', width: 2.5 },
          afterBuildTicks(scale) {
            scale.ticks = erpTicks.map((value) => ({ value }))
          },
          afterFit(scale) {
            scale.height = axisH
            scale.paddingLeft = 0
            scale.paddingRight = 0
          },
          ticks: {
            autoSkip: false,
            minRotation: 90,
            maxRotation: 90,
            padding: 22,
            color: '#3c3c3c',
            font: { family: TICK_FONT, size: 26 },
            callback: (v) => v.toFixed(1),
          },
        },
      },
    },
    plugins: [axisTitlePlugin],
  })
}

const arrowHeadPlugin = {
  id: 'arrowHeads',
  afterDatasetsDraw(chart) {
    const { ctx, scales: { x, y } } = chart
    chart.data.datasets.forEach((ds) => {
      const [a, b] = ds.data
      const x0 = x.getPixelForValue(a.x), y0 = y.getPixelForValue(a.y)
      const x1 = x.getPixelForValue(b.x), y1 = y.getPixelForValue(b.y)
      const len = Math.hypot(x1 - x0, y1 - y0)
      const ux = (x1 - x0) / len, uy = (y1 - y0) / len
      ctx.fillStyle = ds.borderColor
      ctx.beginPath()
      ctx.moveTo(x1, y1)
      ctx.lineTo(x1 - ux * 24 - uy * 10.5, y1 - uy * 24 + ux * 10.5)
      ctx.lineTo(x1 - ux * 24 + uy * 10.5, y1 - uy * 24 - ux * 10.5)
      ctx.closePath()
      ctx.fill()
    })
  },
}

const drawArrows = () => {
  const canvas = addCanvas(0, 0, 3282, 2880)
  canvas.style.pointerEvents = 'none'
  const datasets = []
  panels.forEach((panel) => {
    panel.arrows.forEach((a, i) => {
      datasets.push({
        data: [{ x: a[0], y: a[1] }, { x: a[2], y: a[3] }],
        showLine: true,
        pointRadius: 0,
        borderWidth: 2,
        borderColor: regionColors[i],
      })
    })
  })
  new Chart(canvas, {
    type: 'scatter',
    data: { datasets },
    options: {
      layout: { padding: 0 },
      scales: {
        x: { type: 'linear', display: false, min: 0, max: 3282 },
        y: { type: 'linear', display: false, min: 0, max: 2880, reverse: true },
      },
    },
    plugins: [arrowHeadPlugin],
  })
}

// Header text
const headerLeft = [592, 1556, 2516]
patients.forEach((name, i) => {
  addLabel(name, headerLeft[i] + 5, 46, 56)
  addLabel(`Impaired side: ${impairedSides[i]}`, headerLeft[i] + 4, 113, 60.5)
  addLabel(`n_trials (healthy): ${trialsHealthy[i]}`, headerLeft[i], 184, 47.8)
  addLabel(`n_trials (impaired): ${trialsImpaired[i]}`, headerLeft[i], 249, 47.8)
})
addLabel(rowNames[0], 59, 615, 80)
addLabel(rowNames[1], 54, 1912, 80)

// Charts
panels.forEach((panel, i) => {
  panel.axes.forEach((_, t) => drawTrace(panel, t))
  drawTopography(panel, i)
  drawColorbar(panel, i)

  const box = document.createElement('div')
  box.className = 'peak'
  box.textContent = peakLabels[i]
  box.style.left = panel.peak[0] + 'px'
  box.style.top = panel.peak[1] + 'px'
  box.style.width = panel.peak[2] + 'px'
  box.style.height = panel.peak[3] + 'px'
  box.style.zIndex = 2
  page.appendChild(box)
})
drawArrows()
</script>
</body>
</html>
